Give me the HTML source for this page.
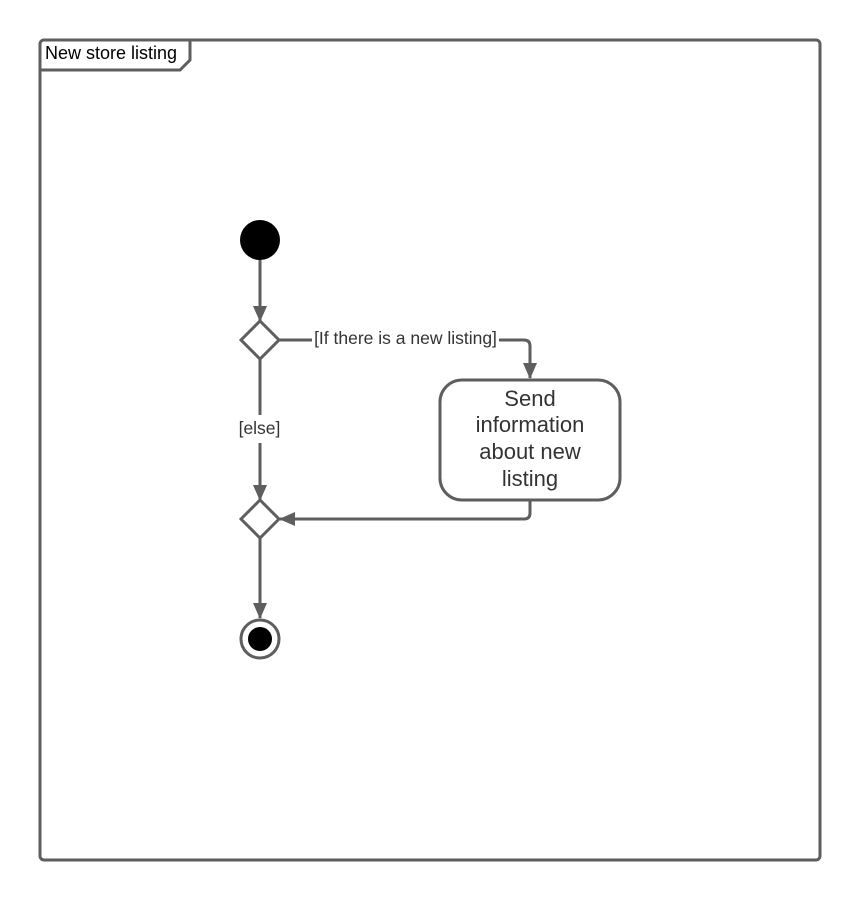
<!DOCTYPE html>
<html><head><style>body{margin:0;background:#fff}svg{display:block}text{font-family:"Liberation Sans",sans-serif;fill:#333}</style></head><body>
<svg width="860" height="900" viewBox="0 0 860 900" xmlns="http://www.w3.org/2000/svg">
<defs><marker id="a" markerWidth="16" markerHeight="14" refX="15" refY="7" orient="auto" markerUnits="userSpaceOnUse"><path d="M0,0 L16,7 L0,14 z" fill="#5e5e5e"/></marker></defs>
<g stroke="#5e5e5e" stroke-width="3" fill="none">
<rect x="40" y="40" width="780" height="820" rx="4"/>
<path d="M40,70 L180,70 L190,60 L190,40"/>
<path d="M260,260 L260,321" marker-end="url(#a)"/>
<path d="M241,340 L260,321 L279,340 L260,359 Z" fill="#fff"/>
<path d="M279,340 L312,340"/>
<path d="M499,340 L524,340 Q530,340 530,346 L530,378" marker-end="url(#a)"/>
<path d="M260,359 L260,415"/>
<path d="M260,443 L260,500" marker-end="url(#a)"/>
<rect x="440" y="380" width="180" height="120" rx="22" fill="#fff"/>
<path d="M530,500 L530,513 Q530,519 524,519 L280,519" marker-end="url(#a)"/>
<path d="M241,519 L260,500 L279,519 L260,538 Z" fill="#fff"/>
<path d="M260,538 L260,618" marker-end="url(#a)"/>
<circle cx="260" cy="639" r="19" fill="#fff"/>
</g>
<circle cx="260" cy="240" r="20" fill="#000"/>
<circle cx="260" cy="639" r="12" fill="#000"/>
<text x="45" y="59" font-size="18" style="fill:#000">New store listing</text>
<text x="405.5" y="344" font-size="17.5" text-anchor="middle">[If there is a new listing]</text>
<text x="259.5" y="434" font-size="17.5" text-anchor="middle">[else]</text>
<g font-size="22" text-anchor="middle"><text x="530" y="406">Send</text><text x="530" y="432">information</text><text x="530" y="459">about new</text><text x="530" y="486">listing</text></g>
</svg></body></html>
